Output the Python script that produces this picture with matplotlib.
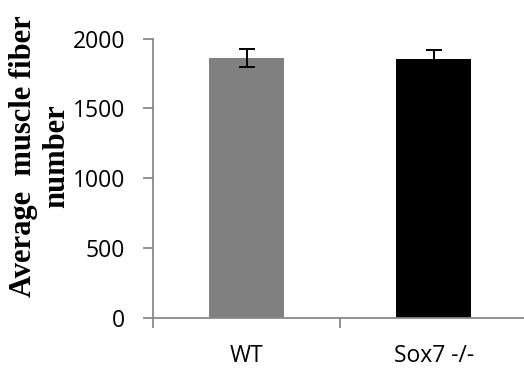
import numpy as np
import matplotlib
matplotlib.use('Agg')
import matplotlib.pyplot as plt

### data ###
genotypes = ['WT', 'Sox7 -/-']
fiber_mean = [1862, 1853]   # average muscle fiber number
fiber_err = [67, 67]        # error bar half-length
bar_colors = ['#808080', '#000000']

axis_gray = '#898989'

### plot ###
fig = plt.figure(figsize=(5.24, 3.68), dpi=100)
ax = fig.add_axes([0.292, 0.136, 0.714, 0.759])

x = np.arange(len(genotypes))
ax.bar(x, fiber_mean, width=0.4, color=bar_colors, zorder=2)
ax.errorbar(x, fiber_mean, yerr=fiber_err, fmt='none', ecolor='black',
            elinewidth=1.4, capsize=6, capthick=1.4, zorder=3)

ax.set_xlim(-0.5, len(genotypes) - 0.5)
ax.set_ylim(0, 2000)
ax.set_yticks([0, 500, 1000, 1500, 2000])

# category labels at bar centres, tick marks at category boundaries
ax.set_xticks(x)
ax.set_xticklabels(genotypes)
ax.set_xticks(np.arange(len(genotypes) + 1) - 0.5, minor=True)
ax.tick_params(axis='x', which='major', length=0, pad=19)
ax.tick_params(axis='x', which='minor', length=7, width=1.3, color=axis_gray)
ax.tick_params(axis='y', length=7, width=1.3, color=axis_gray, pad=13)

for lab in ax.get_xticklabels() + ax.get_yticklabels():
    lab.set_fontfamily('Open Sans')
    lab.set_fontsize(16.5)

for side in ['top', 'right']:
    ax.spines[side].set_visible(False)
for side in ['left', 'bottom']:
    ax.spines[side].set_color(axis_gray)
    ax.spines[side].set_linewidth(1.3)

fig.text(0.077, 0.576, 'Average  muscle fiber\nnumber', rotation=90,
         ha='center', va='center', multialignment='center',
         fontfamily='Liberation Serif', fontweight='bold', fontsize=22)

fig.savefig('out.png', dpi=100)
